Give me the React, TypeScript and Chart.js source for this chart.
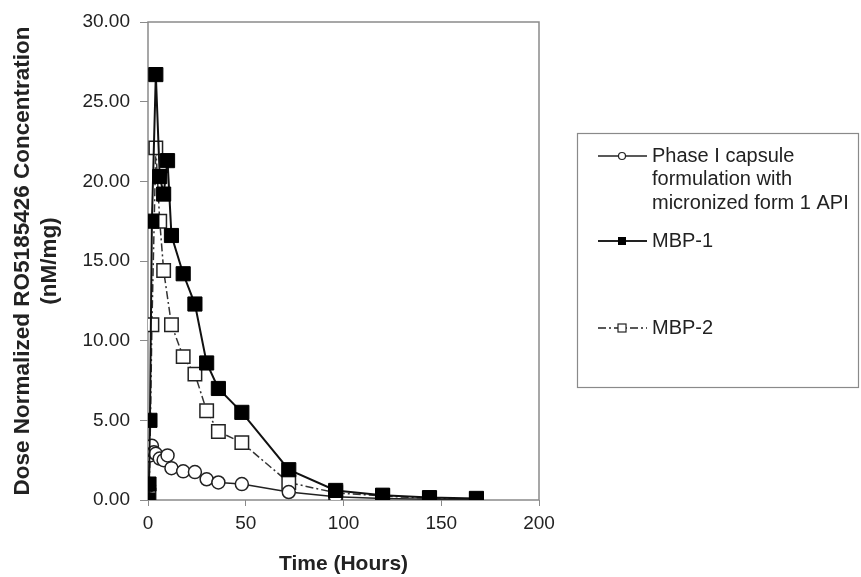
import React, { useEffect, useRef } from "react";
import { Chart, registerables } from "chart.js";

Chart.register(...registerables);

const phase1Times = [0, 0.5, 1, 2, 3, 4, 6, 8, 10, 12, 18, 24, 30, 36, 48, 72, 96, 120, 144, 168];
const phase1Values = [0, 0.9, 2.8, 3.4, 3.0, 2.9, 2.6, 2.5, 2.8, 2.0, 1.8, 1.75, 1.3, 1.1, 1.0, 0.5, 0.2, 0.1, 0.05, 0.03];

const mbp1Times = [0, 0.5, 1, 2, 4, 6, 8, 10, 12, 18, 24, 30, 36, 48, 72, 96, 120, 144, 168];
const mbp1Values = [0, 1.0, 5.0, 17.5, 26.7, 20.3, 19.2, 21.3, 16.6, 14.2, 12.3, 8.6, 7.0, 5.5, 1.9, 0.6, 0.3, 0.15, 0.1];

const mbp2Times = [0, 0.5, 1, 2, 4, 6, 8, 12, 18, 24, 30, 36, 48, 72, 96, 120, 144, 168];
const mbp2Values = [0, 0.3, 2.9, 11.0, 22.1, 17.5, 14.4, 11.0, 9.0, 7.9, 5.6, 4.3, 3.6, 1.1, 0.45, 0.25, 0.1, 0.05];

const xTicks = [0, 50, 100, 150, 200];
const yTicks = [0, 5, 10, 15, 20, 25, 30];

const seriesNames = ["Phase I capsule formulation with micronized form 1 API", "MBP-1", "MBP-2"];
const legendLines = [["Phase I capsule", "formulation with", "micronized form 1 API"], ["MBP-1"], ["MBP-2"]];

const FONT = "'Liberation Sans', Arial, sans-serif";

const pts = (t: number[], v: number[]) => t.map((x, i) => ({ x, y: v[i] }));

const framePlugin = {
  id: "frame",
  beforeDatasetsDraw(chart: any) {
    const { ctx, chartArea } = chart;
    ctx.save();
    ctx.strokeStyle = "#8a8a8a";
    ctx.lineWidth = 1.5;
    ctx.strokeRect(chartArea.left, chartArea.top, chartArea.right - chartArea.left, chartArea.bottom - chartArea.top);
    ctx.restore();
  },
};

const legendPlugin = {
  id: "customLegend",
  afterDraw(chart: any) {
    const ctx = chart.ctx;
    ctx.save();
    ctx.strokeStyle = "#8a8a8a";
    ctx.lineWidth = 1.2;
    ctx.strokeRect(577.5, 133.5, 281, 254);
    const rows = [156, 241, 328];
    ctx.font = `20px ${FONT}`;
    ctx.fillStyle = "#222";
    ctx.textBaseline = "middle";
    legendLines.forEach((lines, i) => {
      const y = rows[i];
      ctx.strokeStyle = "#222";
      ctx.lineWidth = i === 1 ? 2 : 1.5;
      ctx.setLineDash(i === 2 ? [8, 3, 2, 3] : []);
      ctx.beginPath();
      ctx.moveTo(598, y);
      ctx.lineTo(647, y);
      ctx.stroke();
      ctx.setLineDash([]);
      ctx.lineWidth = 1.2;
      if (i === 0) {
        ctx.beginPath();
        ctx.arc(622, y, 3.5, 0, Math.PI * 2);
        ctx.fillStyle = "#fff";
        ctx.fill();
        ctx.stroke();
      } else if (i === 1) {
        ctx.fillStyle = "#000";
        ctx.fillRect(618, y - 4, 8, 8);
      } else {
        ctx.fillStyle = "#fff";
        ctx.fillRect(618, y - 4, 8, 8);
        ctx.strokeRect(618, y - 4, 8, 8);
      }
      ctx.fillStyle = "#222";
      lines.forEach((l, j) => ctx.fillText(l, 652, y + j * 23.5));
    });
    ctx.restore();
  },
};

export default function App() {
  const ref = useRef<HTMLCanvasElement>(null);
  useEffect(() => {
    document.body.style.margin = "0";
    const chart = new Chart(ref.current as HTMLCanvasElement, {
      type: "scatter",
      data: {
        datasets: [
          {
            label: seriesNames[1],
            data: pts(mbp1Times, mbp1Values),
            showLine: true,
            borderColor: "#111",
            borderWidth: 2,
            backgroundColor: "#000",
            pointStyle: "rect",
            pointRadius: 10,
            pointBorderWidth: 1,
            pointBorderColor: "#000",
            pointBackgroundColor: "#000",
            order: 0,
          },
          {
            label: seriesNames[0],
            data: pts(phase1Times, phase1Values),
            showLine: true,
            borderColor: "#222",
            borderWidth: 1.5,
            pointStyle: "circle",
            pointRadius: 6.5,
            pointBorderWidth: 1.5,
            pointBorderColor: "#222",
            pointBackgroundColor: "#fff",
            order: 1,
          },
          {
            label: seriesNames[2],
            data: pts(mbp2Times, mbp2Values),
            showLine: true,
            borderColor: "#333",
            borderWidth: 1.5,
            borderDash: [8, 3, 2, 3],
            pointStyle: "rect",
            pointRadius: 9.5,
            pointBorderWidth: 1.5,
            pointBorderColor: "#222",
            pointBackgroundColor: "#fff",
            order: 2,
          },
        ],
      },
      options: {
        responsive: false,
        animation: false,
        layout: { padding: { top: 22, right: 322, left: 0, bottom: 0 } },
        plugins: { legend: { display: false }, tooltip: { enabled: false } },
        scales: {
          x: {
            type: "linear",
            min: 0,
            max: 200,
            afterBuildTicks: (s: any) => { s.ticks = xTicks.map((v) => ({ value: v })); },
            afterFit: (s: any) => { s.height = 77; },
            grid: { display: true, drawOnChartArea: false, tickLength: 6, color: "#8a8a8a" },
            border: { display: false },
            ticks: { color: "#222", font: { family: FONT, size: 19 }, padding: 6, maxRotation: 0 },
            title: { display: true, text: "Time (Hours)", color: "#222", font: { family: FONT, size: 21, weight: "bold" }, padding: { top: 4, bottom: 0 } },
          },
          y: {
            type: "linear",
            min: 0,
            max: 30,
            afterBuildTicks: (s: any) => { s.ticks = yTicks.map((v) => ({ value: v })); },
            afterFit: (s: any) => { s.width = 148; },
            grid: { display: true, drawOnChartArea: false, tickLength: 8, color: "#8a8a8a" },
            border: { display: false },
            ticks: { color: "#222", font: { family: FONT, size: 19 }, padding: 10, callback: (v: any) => Number(v).toFixed(2) },
            title: { display: true, text: ["Dose Normalized RO5185426 Concentration", "(nM/mg)"], color: "#222", font: { family: FONT, size: 22.5, weight: "bold", lineHeight: 1.2 }, padding: { top: 9, bottom: 4 } },
          },
        },
      },
      plugins: [framePlugin, legendPlugin],
    } as any);
    return () => chart.destroy();
  }, []);
  return <canvas ref={ref} width={861} height={577} style={{ display: "block" }} />;
}
